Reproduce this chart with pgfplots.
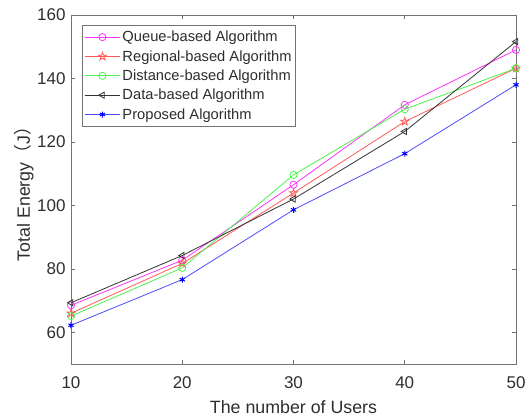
\documentclass[border=0pt]{standalone}
\usepackage{fontspec}
\setmainfont{Liberation Sans}
\newfontfamily\cjk{Noto Sans CJK SC}
\usepackage{pgfplots}
\pgfplotsset{compat=1.18}
\definecolor{axgray}{gray}{0.45}
\definecolor{txtgray}{gray}{0.18}
\definecolor{lmag}{rgb}{1,0.2,1}
\definecolor{lred}{rgb}{1,0.35,0.35}
\definecolor{lgreen}{rgb}{0.3,0.95,0.3}
\definecolor{lblack}{gray}{0.2}
\definecolor{lblue}{rgb}{0.3,0.3,1}
\pgfdeclareplotmark{pentagram}{%
  \pgfpathmoveto{\pgfqpointpolar{90}{\pgfplotmarksize}}%
  \foreach \a in {126,162,...,414}{%
    \pgfmathsetmacro{\r}{mod(round((\a-90)/36),2)==1 ? 0.382 : 1}%
    \pgfpathlineto{\pgfpointpolar{\a}{\r*\pgfplotmarksize}}}%
  \pgfpathclose\pgfusepathqstroke}
\begin{document}
\begin{tikzpicture}
\begin{axis}[
  scale only axis,
  width=445pt, height=349pt,
  xmin=10, xmax=50, ymin=50, ymax=160,
  xtick={10,20,30,40,50},
  ytick={60,80,100,120,140,160},
  tick align=inside,
  major tick length=4pt,
  axis line style={axgray, line width=0.8pt},
  every tick/.style={axgray, line width=0.6pt},
  tick label style={font=\fontsize{17}{19}\selectfont, text=txtgray},
  xticklabel style={anchor=base, yshift=-24pt},
  yticklabel style={xshift=-2pt},
  /pgf/number format/assume math mode=true,
  xlabel={The number of Users},
  ylabel={Total Energy{\cjk （}J{\cjk ）}},
  label style={font=\fontsize{17.8}{20}\selectfont, text=txtgray},
  xlabel style={at={(rel axis cs:0.5,0)}, anchor=center, yshift=-43pt},
  ylabel style={at={(rel axis cs:0,0.5)}, anchor=center, yshift=47pt},
  legend style={at={(rel axis cs:0.0247,0.971)}, anchor=north west, draw=axgray, line width=0.8pt,
    font=\fontsize{14.7}{17}\selectfont, text=txtgray, row sep=3.2pt, inner xsep=2pt, inner ysep=3.5pt},
  legend cell align=left,
  legend image code/.code={\draw[mark repeat=2,mark phase=2] plot coordinates {(0cm,0cm)(0.62cm,0cm)(1.24cm,0cm)};},
  every axis plot/.append style={line width=0.8pt, mark size=3.6pt},
]
\addplot[lmag, mark=o] coordinates {(10,68.5)(20,82.7)(30,106.5)(40,131.7)(50,149.0)};
\addlegendentry{Queue-based Algorithm}
\addplot[lred, mark=pentagram, mark options={mark size=4.2pt}] coordinates {(10,66.0)(20,81.7)(30,103.9)(40,126.4)(50,143.2)};
\addlegendentry{Regional-based Algorithm}
\addplot[lgreen, mark=o] coordinates {(10,65.1)(20,80.3)(30,109.6)(40,130.3)(50,143.2)};
\addlegendentry{Distance-based Algorithm}
\addplot[lblack, mark=triangle, mark options={rotate=90}] coordinates {(10,69.3)(20,84.2)(30,102.0)(40,123.3)(50,151.6)};
\addlegendentry{Data-based Algorithm}
\addplot[lblue, mark=asterisk, mark options={blue, line width=1pt, mark size=3pt}] coordinates {(10,62.2)(20,76.6)(30,98.6)(40,116.3)(50,138.0)};
\addlegendentry{Proposed Algorithm}
\end{axis}
\pgfresetboundingbox
\path[use as bounding box] (-71pt,-52pt) rectangle (458pt,364pt);
\end{tikzpicture}
\end{document}
